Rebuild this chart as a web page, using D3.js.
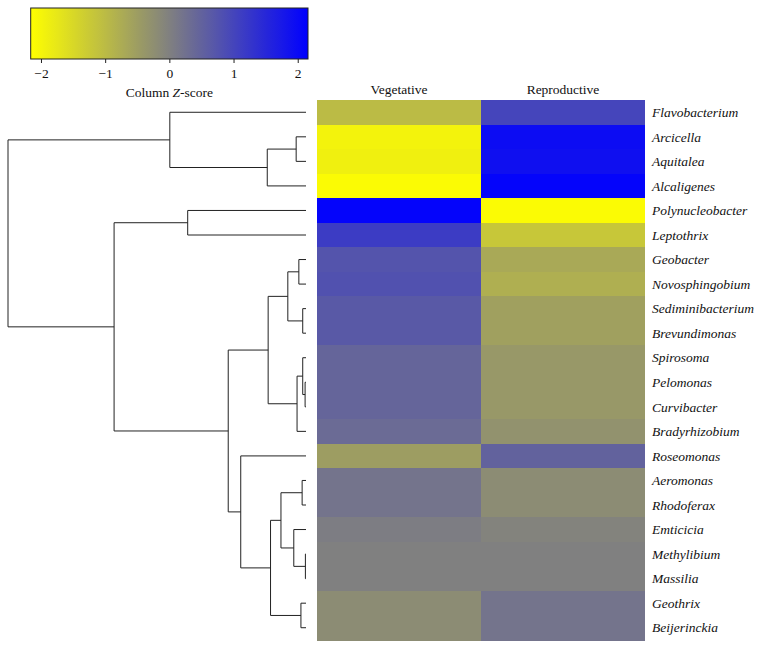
<!DOCTYPE html>
<html><head><meta charset="utf-8">
<script src="https://cdn.jsdelivr.net/npm/d3@7"></script>
<style>
html,body{margin:0;padding:0;background:#fff;}
svg{display:block;}
text{font-family:"Liberation Serif","DejaVu Serif",serif;fill:#111;}
</style></head>
<body>
<svg id="chart" width="758" height="649"></svg>
<script>
// ---- Data ----
const rows = ["Flavobacterium","Arcicella","Aquitalea","Alcaligenes","Polynucleobacter","Leptothrix",
  "Geobacter","Novosphingobium","Sediminibacterium","Brevundimonas","Spirosoma","Pelomonas",
  "Curvibacter","Bradyrhizobium","Roseomonas","Aeromonas","Rhodoferax","Emticicia",
  "Methylibium","Massilia","Geothrix","Beijerinckia"];
const columns = ["Vegetative","Reproductive"];
const vegetative   = [-1.0,-1.95,-1.9,-2.1, 2.1, 1.15, 0.75, 0.8, 0.65, 0.65, 0.45, 0.45, 0.45, 0.35,-0.5, 0.2, 0.2, 0.05, 0.0, 0.0,-0.2,-0.2];
const reproductive = [ 1.0, 1.95, 1.9, 2.1,-2.1,-1.2,-0.7,-0.8,-0.55,-0.55,-0.4,-0.4,-0.4,-0.3, 0.5,-0.2,-0.2,-0.05, 0.0, 0.0, 0.2, 0.2];
const legendTicks = [-2,-1,0,1,2];
// dendrogram merges: [left, right, height]; strings = leaves, numbers = earlier merge index
const merges = [
  ["Arcicella","Aquitalea",3.3],          //0
  [0,"Alcaligenes",13.0],                 //1
  ["Flavobacterium",1,45.7],              //2
  ["Polynucleobacter","Leptothrix",39.7], //3
  ["Geobacter","Novosphingobium",2.4],    //4
  ["Sediminibacterium","Brevundimonas",1.1], //5
  [4,5,6.1],                              //6
  ["Pelomonas","Curvibacter",0.3],        //7
  ["Spirosoma",7,1.1],                    //8
  [8,"Bradyrhizobium",3.0],               //9
  [6,9,12.7],                             //10
  ["Aeromonas","Rhodoferax",1.3],         //11
  ["Methylibium","Massilia",0.2],         //12
  ["Emticicia",12,4.1],                   //13
  [11,13,8.4],                            //14
  ["Geothrix","Beijerinckia",1.7],        //15
  [14,15,11.9],                           //16
  ["Roseomonas",16,21.9],                 //17
  [10,17,26.1],                           //18
  [3,18,64.4],                            //19
  [2,19,100]                              //20
];

// ---- Layout ----
const svg = d3.select("#chart");
const hm = {x0:317, x1:645, y0:100, y1:640};
const xCol = d3.scaleBand().domain(columns).range([hm.x0, hm.x1]);
const yRow = d3.scaleBand().domain(rows).range([hm.y0, hm.y1]);
const zMax = 2.16;
const color = d3.scaleLinear().domain([-zMax,0,zMax]).range(["#ffff00","#808080","#0000ff"]);

// heatmap cells
const cells = [];
rows.forEach((r,i)=>{ cells.push({r, c:columns[0], v:vegetative[i]}); cells.push({r, c:columns[1], v:reproductive[i]}); });
svg.append("g").selectAll("rect").data(cells).join("rect")
  .attr("x", d=>xCol(d.c)).attr("y", d=>yRow(d.r))
  .attr("width", xCol.bandwidth()).attr("height", yRow.bandwidth()+0.5)
  .attr("fill", d=>color(d.v)).attr("shape-rendering","crispEdges");

// column labels
svg.append("g").selectAll("text").data(columns).join("text")
  .attr("x", d=>xCol(d)+xCol.bandwidth()/2).attr("y", 94)
  .attr("text-anchor","middle").attr("font-size",13.5).text(d=>d);

// row labels
svg.append("g").selectAll("text").data(rows).join("text")
  .attr("x", 652).attr("y", d=>yRow(d)+yRow.bandwidth()/2)
  .attr("dy","0.35em").attr("font-size",13.5).attr("font-style","italic").text(d=>d);

// dendrogram
const xH = d3.scaleLinear().domain([0,100]).range([306, 8]);
const nodes = merges.map(()=>null);
function nodeOf(k){
  if (typeof k === "string") return {y: yRow(k)+yRow.bandwidth()/2, h:0};
  return nodes[k];
}
const dg = svg.append("g").attr("stroke","#222").attr("stroke-width",1).attr("fill","none");
merges.forEach((m,i)=>{
  const a = nodeOf(m[0]), b = nodeOf(m[1]);
  const x = xH(m[2]);
  const y = (a.y+b.y)/2;
  nodes[i] = {y, h:m[2]};
  const path = d3.path();
  path.moveTo(xH(a.h), a.y); path.lineTo(x, a.y); path.lineTo(x, b.y); path.lineTo(xH(b.h), b.y);
  dg.append("path").attr("d", path.toString());
});

// legend
const lg = {x0:30.7, x1:308, y0:8, y1:59};
const xL = d3.scaleLinear().domain([-zMax, zMax]).range([lg.x0, lg.x1]);
const defs = svg.append("defs");
const grad = defs.append("linearGradient").attr("id","lgGrad").attr("x1","0%").attr("x2","100%");
d3.range(0,1.0001,0.05).forEach(t=>{
  grad.append("stop").attr("offset", (t*100)+"%").attr("stop-color", color(-zMax + t*2*zMax));
});
svg.append("rect").attr("x",lg.x0).attr("y",lg.y0).attr("width",lg.x1-lg.x0).attr("height",lg.y1-lg.y0)
  .attr("fill","url(#lgGrad)").attr("stroke","#222").attr("stroke-width",1);
const axis = d3.axisBottom(xL).tickValues(legendTicks).tickSize(4).tickSizeOuter(0)
  .tickFormat(d=> d<0 ? "\u2212"+Math.abs(d) : String(d));
const ag = svg.append("g").attr("transform",`translate(0,${lg.y1})`).call(axis);
ag.select(".domain").remove();
ag.selectAll("text").attr("font-size",13.5).attr("font-family","Liberation Serif, serif").attr("fill","#111").attr("dy","0.9em");
ag.selectAll("line").attr("stroke","#222");
const title = svg.append("text").attr("x", xL(0)).attr("y", 97).attr("text-anchor","middle").attr("font-size",13.5);
title.append("tspan").text("Column ");
title.append("tspan").attr("font-style","italic").text("Z");
title.append("tspan").text("-score");
</script>
</body></html>
